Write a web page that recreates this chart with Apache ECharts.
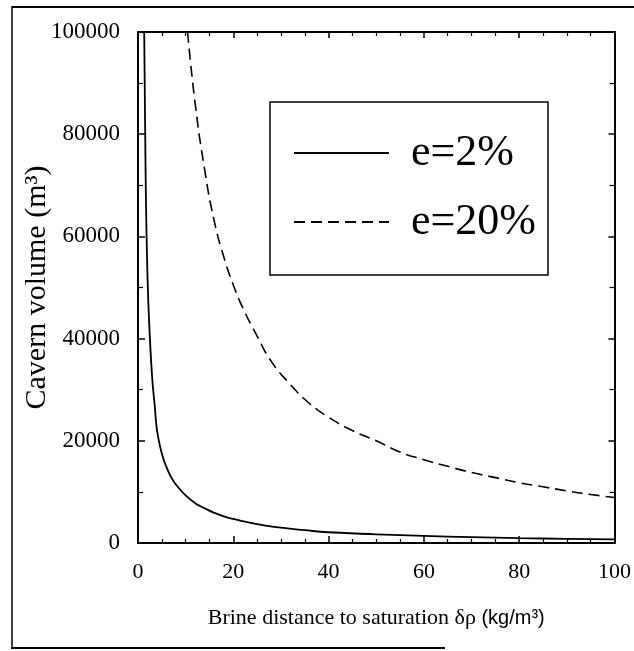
<!DOCTYPE html>
<html>
<head>
<meta charset="utf-8">
<script src="https://cdn.jsdelivr.net/npm/echarts@6/dist/echarts.min.js"></script>
<style>
html,body{margin:0;padding:0;background:#fff;}
#c{width:634px;height:651px;}
</style>
</head>
<body>
<div id="c"></div>
<script>
// Data
var seriesNames = ['e=2%', 'e=20%'];
var xTicks = [0, 20, 40, 60, 80, 100];
var yTicks = [0, 20000, 40000, 60000, 80000, 100000];

var solidX = [1.3, 1.6, 2, 2.5, 3, 3.5, 4, 5, 6, 7, 8, 10, 12, 14, 16, 18, 20, 25, 30, 35, 40, 50, 60, 70, 80, 90, 100];
var solidY = [100000, 72000, 52000, 40000, 32000, 27000, 22000, 17500, 14800, 12800, 11400, 9300, 7800, 6800, 5900, 5200, 4700, 3700, 3000, 2500, 2100, 1700, 1400, 1150, 950, 820, 700];

var dashX = [10.4, 12, 14, 16, 18, 20, 22, 25, 28, 32, 36, 40, 45, 50, 55, 60, 65, 70, 75, 80, 85, 90, 95, 100];
var dashY = [100000, 86000, 73000, 63000, 56000, 50500, 46000, 40500, 35500, 31000, 27300, 24600, 22000, 20000, 17800, 16300, 15000, 13800, 12800, 11800, 11000, 10200, 9500, 8900];

function pairs(xs, ys) { return xs.map(function (x, i) { return [x, ys[i]]; }); }

var serif = 'Liberation Serif, Times New Roman, serif';
var sans = 'Liberation Sans, Arial, sans-serif';

var chart = echarts.init(document.getElementById('c'), null, {renderer: 'canvas'});

function axisLine() { return {show: true, onZero: false, lineStyle: {color: '#000', width: 2}}; }
function tick(len) { return {show: true, inside: true, length: len, lineStyle: {color: '#000', width: 1.5}}; }
function minor(n, len) { return {show: true, splitNumber: n, length: len, lineStyle: {color: '#000', width: 1.2}}; }

var option = {
  backgroundColor: '#fff',
  animation: false,
  grid: {left: 138, right: 16, top: 32, bottom: 108, containLabel: false},
  legend: {
    data: seriesNames,
    orient: 'vertical',
    left: 270, top: 102,
    padding: [29, 12, 31, 23],
    itemGap: 25,
    itemWidth: 95, itemHeight: 20,
    borderColor: '#000', borderWidth: 1.5,
    backgroundColor: '#fff',
    itemStyle: {opacity: 0},
    textStyle: {fontFamily: serif, fontSize: 44, color: '#000', padding: [0, 0, 0, 17]}
  },
  xAxis: [
    {
      type: 'value', min: xTicks[0], max: xTicks[xTicks.length - 1], interval: 20,
      position: 'bottom',
      axisLine: axisLine(), axisTick: tick(7), minorTick: minor(4, 4),
      splitLine: {show: false}, minorSplitLine: {show: false},
      name: '{a|Brine distance to saturation δρ }{b|(kg/m³)}',
      nameLocation: 'middle', nameGap: 64,
      nameTextStyle: {
        rich: {
          a: {fontFamily: serif, fontSize: 22, color: '#000'},
          b: {fontFamily: sans, fontSize: 20, color: '#000'}
        }
      },
      axisLabel: {show: true, margin: 18, fontFamily: serif, fontSize: 22, color: '#000',
        formatter: function (v) { return String(v); }}
    },
    {
      type: 'value', min: xTicks[0], max: xTicks[xTicks.length - 1], interval: 20,
      position: 'top',
      axisLine: axisLine(), axisTick: tick(6), minorTick: minor(4, 4),
      splitLine: {show: false}, minorSplitLine: {show: false},
      axisLabel: {show: false}
    }
  ],
  yAxis: [
    {
      type: 'value', min: yTicks[0], max: yTicks[yTicks.length - 1], interval: 20000,
      position: 'left',
      axisLine: axisLine(), axisTick: tick(7), minorTick: minor(2, 5),
      splitLine: {show: false}, minorSplitLine: {show: false},
      name: 'Cavern volume (m³)',
      nameLocation: 'middle', nameGap: 86, nameRotate: 90, nameMoveOverlap: false,
      nameTextStyle: {fontFamily: serif, fontSize: 30, color: '#000'},
      axisLabel: {show: true, margin: 18, fontFamily: serif, fontSize: 23, color: '#000',
        formatter: function (v) { return String(v); }}
    },
    {
      type: 'value', min: yTicks[0], max: yTicks[yTicks.length - 1], interval: 20000,
      position: 'right',
      axisLine: axisLine(), axisTick: tick(6), minorTick: minor(2, 5),
      splitLine: {show: false}, minorSplitLine: {show: false},
      axisLabel: {show: false}
    }
  ],
  series: [
    {
      name: seriesNames[0], type: 'line', xAxisIndex: 0, yAxisIndex: 0,
      data: pairs(solidX, solidY), showSymbol: false, symbol: 'none', smooth: true,
      lineStyle: {color: '#000', width: 1.8, type: 'solid'},
      itemStyle: {color: '#000'}
    },
    {
      name: seriesNames[1], type: 'line', xAxisIndex: 0, yAxisIndex: 0,
      data: pairs(dashX, dashY), showSymbol: false, symbol: 'none', smooth: true,
      lineStyle: {color: '#000', width: 1.6, type: [11, 6]},
      itemStyle: {color: '#000'}
    }
  ],
  graphic: [
    {type: 'line', shape: {x1: 12, y1: 7, x2: 634, y2: 7}, style: {stroke: '#000', lineWidth: 2}},
    {type: 'line', shape: {x1: 12, y1: 6, x2: 12, y2: 648}, style: {stroke: '#000', lineWidth: 1.5}},
    {type: 'line', shape: {x1: 11, y1: 648, x2: 445, y2: 648}, style: {stroke: '#000', lineWidth: 2}}
  ]
};
chart.setOption(option);
</script>
</body>
</html>
